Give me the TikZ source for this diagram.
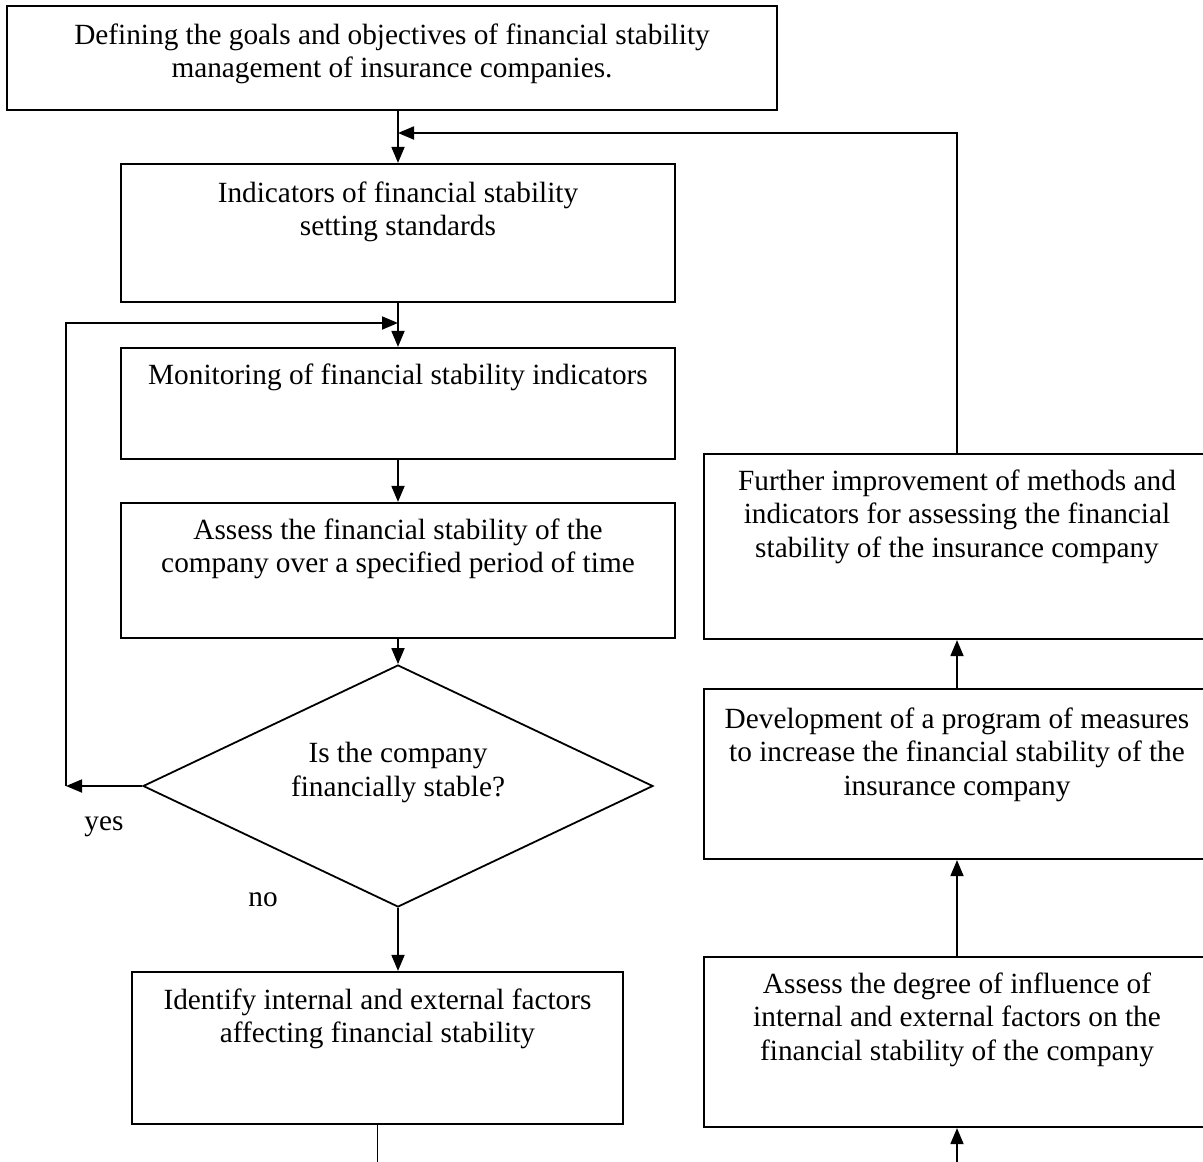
\documentclass[tikz,border=0pt]{standalone}
\usepackage{fontspec}
\setmainfont{Liberation Serif}[Ligatures=CommonOff]
\usetikzlibrary{arrows.meta,shapes.geometric}
\newcommand{\bxt}[4]{\parbox[c][#2][t]{#1}{\centering\rule{0pt}{#3}#4\par}}
\begin{document}
\begin{tikzpicture}[x=1pt,y=-1pt,
  font=\fontsize{29.3}{33.7}\selectfont,
  bx/.style={draw, line width=2.2pt, inner sep=0pt},
  ln/.style={line width=1.8pt},
  arr/.style={line width=1.8pt, -{Triangle[length=16pt,width=13pt]}}]
\useasboundingbox (0,0) rectangle (1203,1162);
\clip (0,0) rectangle (1203,1162);
\fill[white] (0,0) rectangle (1203,1162);
% left column
\node[bx] (b1) at (392,58) {\bxt{770pt}{104pt}{38pt}{Defining the goals and objectives of financial stability\\ management of insurance companies.}};
\node[bx] (b2) at (398,233) {\bxt{554pt}{138pt}{38pt}{Indicators of financial stability\\ setting standards}};
\node[bx] (b3) at (398,403.5) {\bxt{554pt}{111pt}{36pt}{Monitoring of financial stability indicators}};
\node[bx] (b4) at (398,570.5) {\bxt{554pt}{135pt}{36pt}{Assess the financial stability of the\\ company over a specified period of time}};
\node[diamond, draw, line width=1.8pt, inner sep=0pt, aspect=2.1,
  minimum width=510pt, minimum height=242pt, align=center] (dec) at (398,786)
  {Is the company\\financially stable?\\\mbox{}};
\node (yes) at (104,827) {yes};
\node (no) at (263,900) {no};
\node[bx] (b5) at (377.5,1048) {\bxt{491pt}{152pt}{37pt}{Identify internal and external factors\\ affecting financial stability}};
% right column
\node[bx] (r1) at (957,546.5) {\bxt{506pt}{185pt}{36pt}{Further improvement of methods and\\ indicators for assessing the financial\\ stability of the insurance company}};
\node[bx] (r2) at (957,774) {\bxt{506pt}{170pt}{39pt}{Development of a program of measures\\ to increase the financial stability of the\\ insurance company}};
\node[bx] (r3) at (957,1042) {\bxt{506pt}{170pt}{36pt}{Assess the degree of influence of\\ internal and external factors on the\\ financial stability of the company}};
% junction points
\coordinate (j1) at (398,133);
\coordinate (j2) at (66,786);
\coordinate (j3) at (398,323);
\coordinate (e1) at (377.5,1170);
\coordinate (e2) at (957,1170);
% connectors
\draw[arr] (b1.south -| b2.north) -- (b2.north);
\draw[arr] (b2.south) -- (b3.north);
\draw[arr] (b3.south) -- (b4.north);
\draw[arr] (b4.south) -- (dec.north);
\draw[arr] (dec.south) -- (dec.south |- b5.north);
\draw[ln] (b5.south) -- (e1);
\draw[arr] (e2) -- (r3.south);
\draw[arr] (r3.north) -- (r2.south);
\draw[arr] (r2.north) -- (r1.south);
\draw[arr] (r1.north) |- (j1);
\draw[arr] (dec.west) -- (j2);
\draw[arr] (j2) |- (j3);
\end{tikzpicture}
\end{document}
